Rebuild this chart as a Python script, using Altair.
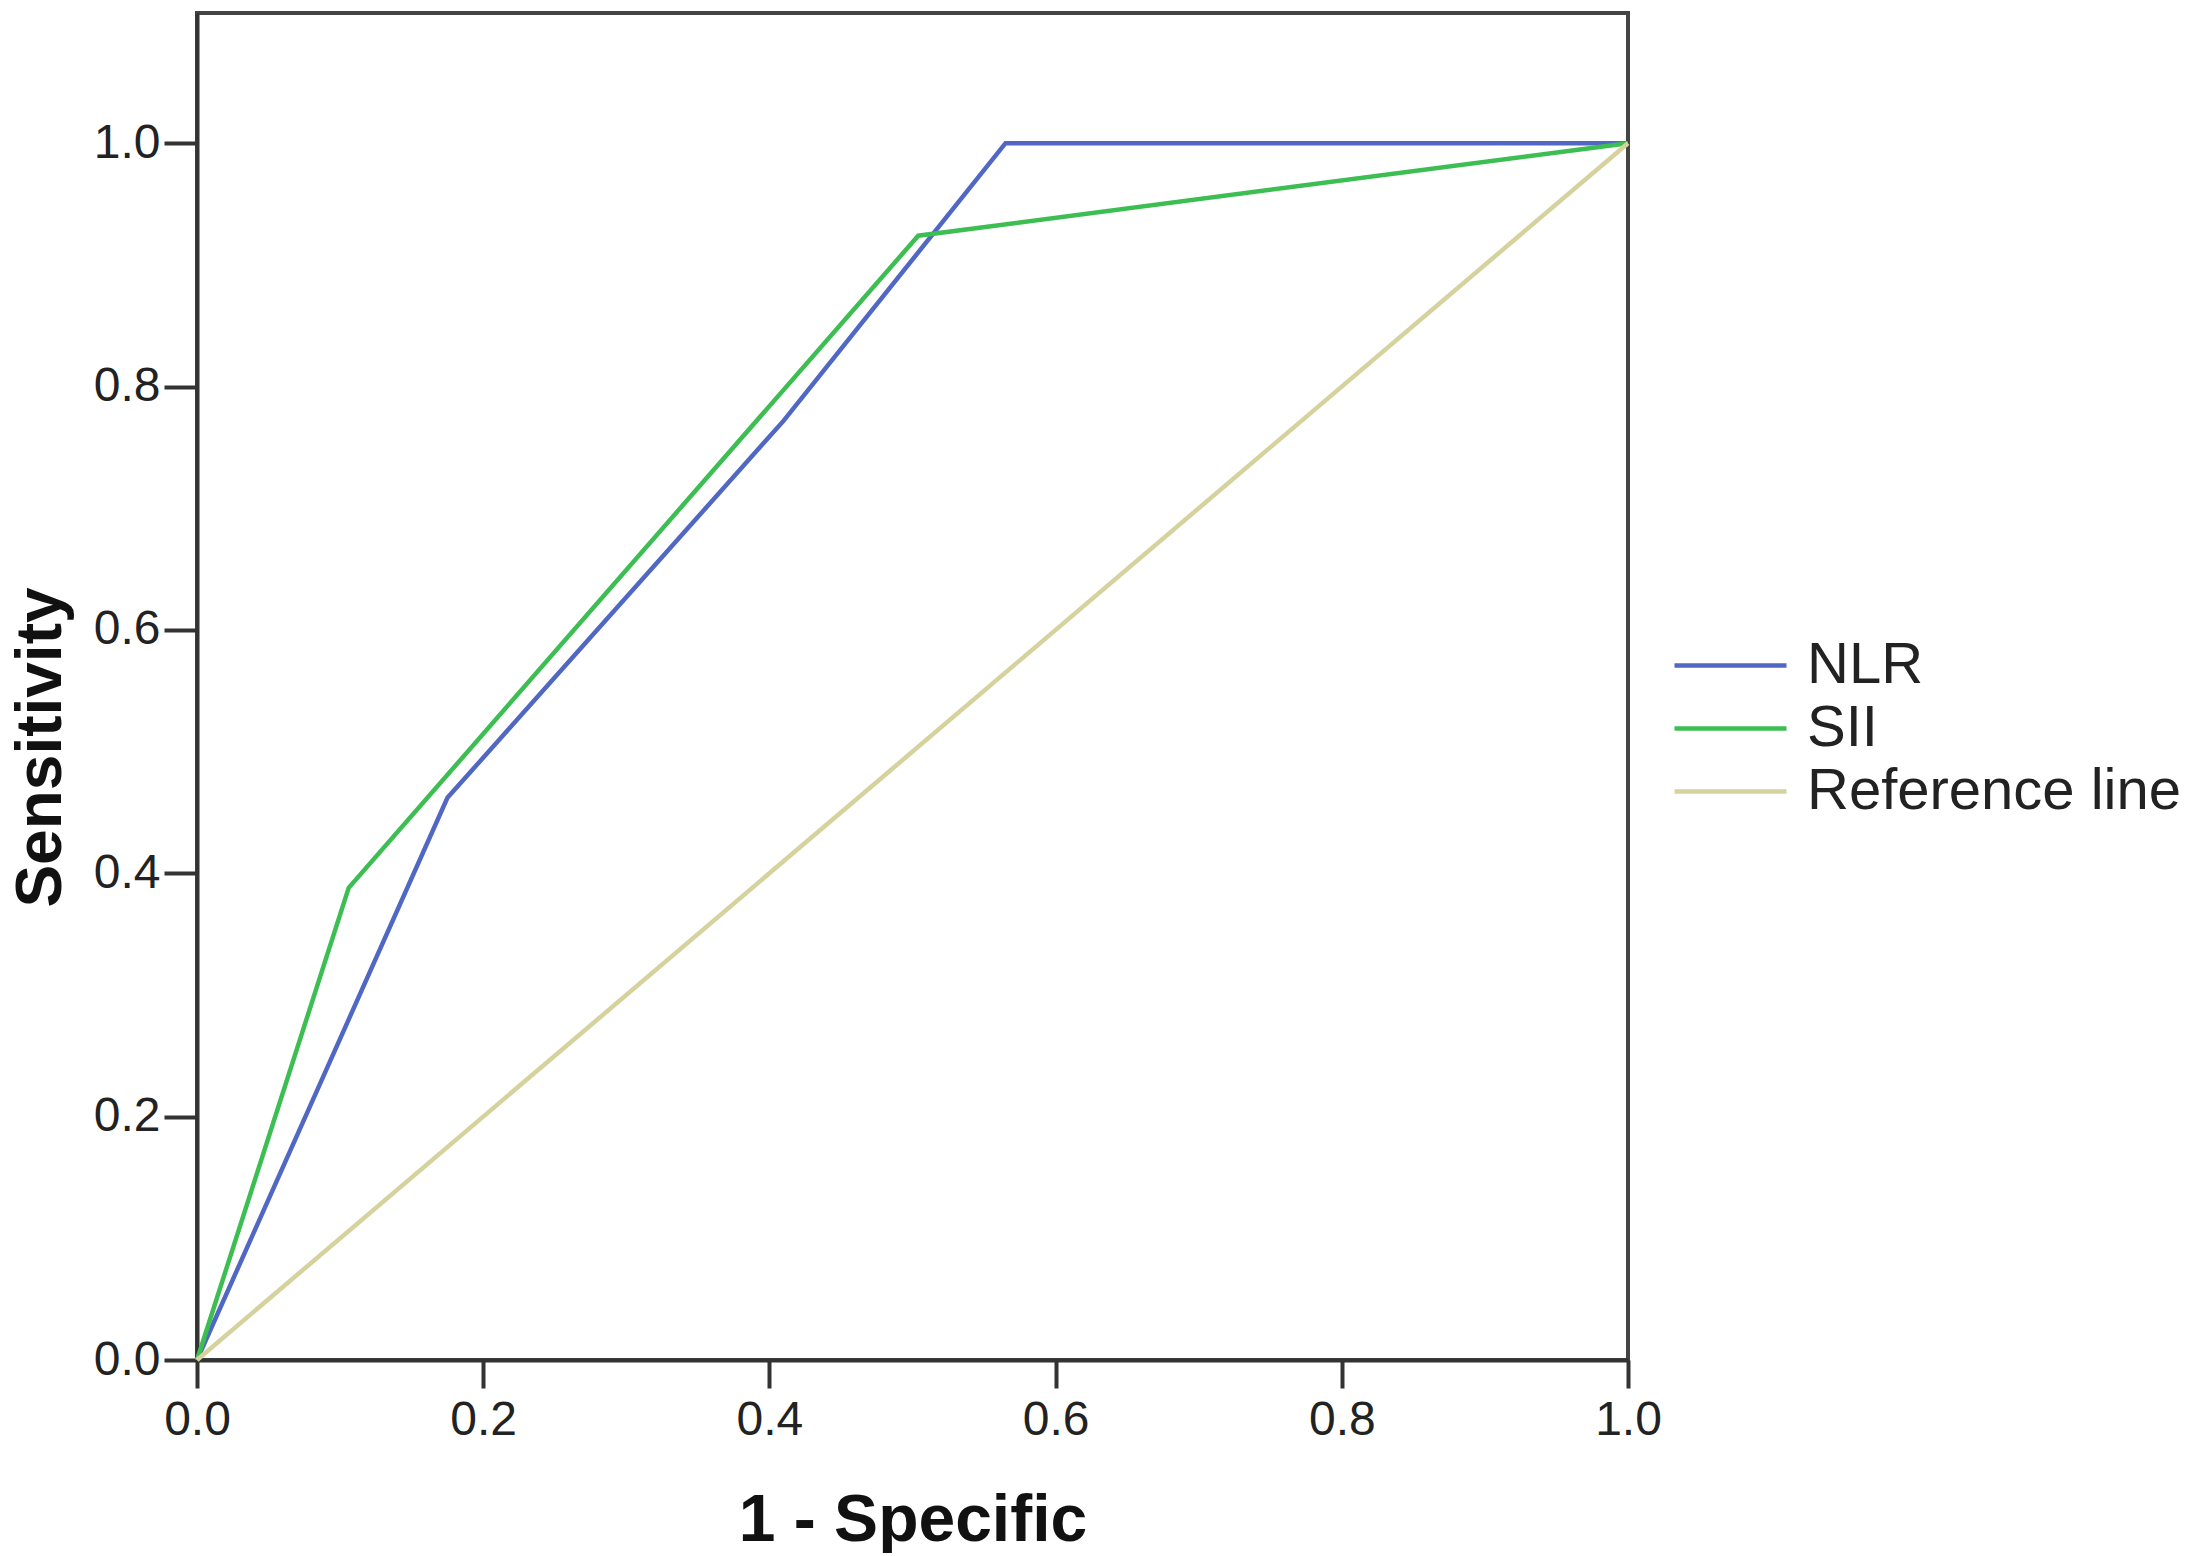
import altair as alt
import pandas as pd

# ROC points
nlr_x = [0.0, 0.175, 0.41, 0.565, 1.0]
nlr_y = [0.0, 0.462, 0.772, 1.0, 1.0]
sii_x = [0.0, 0.106, 0.504, 1.0]
sii_y = [0.0, 0.388, 0.924, 1.0]
ref_x = [0.0, 1.0]
ref_y = [0.0, 1.0]

series = ["NLR", "SII", "Reference line"]
colors = ["#5068C4", "#3DBE52", "#D6D29E"]
tick_vals = [0.0, 0.2, 0.4, 0.6, 0.8, 1.0]

rows = []
for name, xs, ys in [("NLR", nlr_x, nlr_y), ("SII", sii_x, sii_y), ("Reference line", ref_x, ref_y)]:
    for i, (a, b) in enumerate(zip(xs, ys)):
        rows.append({"series": name, "x": a, "y": b, "ord": i})
df = pd.DataFrame(rows)

FONT = "Liberation Sans"

chart = alt.Chart(df).mark_line(strokeWidth=4.5).encode(
    x=alt.X("x:Q", scale=alt.Scale(domain=[0, 1], nice=False, zero=False),
            axis=alt.Axis(title="1 - Specific", values=tick_vals, format=".1f",
                          grid=False, tickSize=28, tickWidth=4, domainWidth=4,
                          domainColor="#333333", tickColor="#333333",
                          labelFontSize=48, labelColor="#222222", labelPadding=8,
                          labelFlush=False,
                          titleFontSize=66, titleFontWeight="bold", titleColor="#111111",
                          titlePadding=44, labelFont=FONT, titleFont=FONT)),
    y=alt.Y("y:Q", scale=alt.Scale(domain=[0, 1.107], nice=False, zero=False),
            axis=alt.Axis(title="Sensitivity", values=tick_vals, format=".1f",
                          grid=False, tickSize=33, tickWidth=4, domainWidth=4,
                          domainColor="#333333", tickColor="#333333",
                          labelFontSize=48, labelColor="#222222", labelPadding=4,
                          labelFlush=False,
                          titleFontSize=64, titleFontWeight="bold", titleColor="#111111",
                          titlePadding=20, titleY=734, labelFont=FONT, titleFont=FONT)),
    color=alt.Color("series:N", scale=alt.Scale(domain=series, range=colors),
                    legend=alt.Legend(title=None, orient="none", legendX=1475, legendY=621,
                                      symbolType="stroke", symbolSize=12544,
                                      symbolStrokeWidth=4.5, labelFontSize=58,
                                      labelFont=FONT, labelColor="#222222",
                                      labelLimit=0, clipHeight=63,
                                      labelOffset=18, rowPadding=0)),
    order="ord:Q",
).properties(
    width=1431, height=1347,
    background="white",
    padding={"left": 1, "top": 5, "right": 0, "bottom": 0},
).configure_view(
    stroke="#444444", strokeWidth=4
)

chart.save("out.html", embed_options={"renderer": "svg", "actions": False})
